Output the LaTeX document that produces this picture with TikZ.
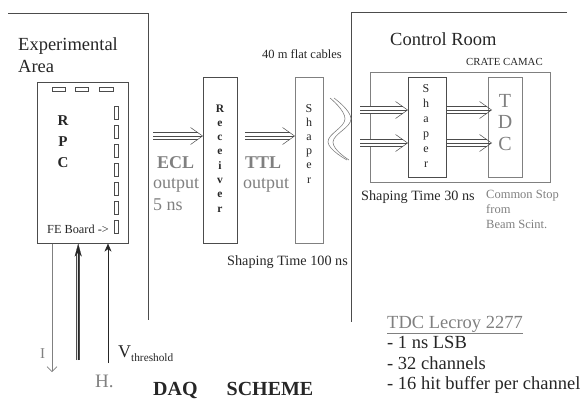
\documentclass[tikz,border=0pt]{standalone}
\usepackage{fontspec}
\setmainfont{Liberation Serif}
\newfontfamily\tms{Liberation Serif}
\usetikzlibrary{arrows.meta}
\newcommand\fsz[1]{\tms\fontsize{#1}{#1}\selectfont}
\definecolor{ln}{gray}{0.3}
\definecolor{lnl}{gray}{0.5}
\definecolor{tg}{gray}{0.5}
\definecolor{td}{gray}{0.15}
\tikzset{
  box/.style={draw=ln, line width=0.6pt, inner sep=0pt, anchor=north west},
  lbl/.style={anchor=base west, inner sep=0pt, text=td},
  letter/.style={anchor=base, inner sep=0pt, text=td},
  tri/.style={draw=ln, line width=0.5pt, -{Straight Barb[length=12pt,width=17pt]},
    preaction={draw=ln, line width=7.2pt, shorten >=5pt, -},
    preaction={draw=white, line width=6.2pt, shorten >=5pt, -}},
  dbl/.style={draw=td, line width=0.2pt, -{Stealth[length=13pt,width=7pt]},
    preaction={draw=ln, line width=3.6pt, shorten >=9pt, -},
    preaction={draw=gray!25, line width=2.2pt, shorten >=9pt, -}},
  wire/.style={draw=ln, line width=0.6pt},
}
\begin{document}
\begin{tikzpicture}[x=1pt,y=-1pt]
\useasboundingbox (0,0) rectangle (584,402);
% walls
\draw[wire] (8,13) -- (148,13) -- (148,320);
\draw[wire] (567,12) -- (351,12) -- (351,322);
\node[lbl, font=\fsz{18.5}] (exp) at (18,50) {Experimental};
\node[lbl, font=\fsz{18.5}] (area) at (18,72) {Area};
\node[lbl, font=\fsz{18.5}] (ctrl) at (390,45) {Control Room};
\node[lbl, font=\fsz{10.8}] (crt) at (466,65) {CRATE CAMAC};
% RPC
\node[box, minimum width=91pt, minimum height=161pt] (rpc) at (37,82) {};
\draw[wire, line width=0.5pt] (52,87) rectangle (65,91) (75,87) rectangle (88,91) (99,87) rectangle (113,91);
\foreach \i in {0,...,6} {\draw[wire, line width=0.5pt] (114,106+19*\i) rectangle (118,119+19*\i);}
\node[letter, font=\fsz{15}\bfseries] (r1) at (63,125) {R};
\node[letter, font=\fsz{15}\bfseries] (r2) at (63,146) {P};
\node[letter, font=\fsz{15}\bfseries] (r3) at (63,167) {C};
\node[lbl, font=\fsz{12.3}] (fe) at (47,233) {FE Board ->};
% Receiver
\node[box, minimum width=34pt, minimum height=166pt] (rcv) at (203,77) {};
\foreach \c [count=\i from 0] in {R,e,c,e,i,v,e,r}
  {\node[letter, font=\fsz{11.5}\bfseries] (rv\i) at (220,112+14.3*\i) {\c};}
% Shaper 1
\node[box, draw=lnl, minimum width=28pt, minimum height=166pt] (sh1) at (295,77) {};
\foreach \c [count=\i from 0] in {S,h,a,p,e,r}
  {\node[letter, font=\fsz{12}] (sa\i) at (309,112+14.2*\i) {\c};}
\node[lbl, font=\fsz{12.5}] (flat) at (262,58) {40 m flat cables};
\node[lbl, font=\fsz{14.2}] (st1) at (227,265) {Shaping Time 100 ns};
% ECL / TTL
\coordinate (e1) at (153,136);
\draw[tri] (e1) -- (e1 -| rcv.west);
\coordinate (t1) at (245,136);
\draw[tri] (t1) -- (t1 -| sh1.west);
\node[lbl, text=tg, font=\fsz{18}\bfseries] (ecl) at (157,168) {ECL};
\node[lbl, text=tg, font=\fsz{18}] (eo) at (153,188) {output};
\node[lbl, text=tg, font=\fsz{18}] (ens) at (153,210) {5 ns};
\node[lbl, text=tg, font=\fsz{18}\bfseries] (ttl) at (245,168) {TTL};
\node[lbl, text=tg, font=\fsz{18}] (to) at (243,188) {output};
% cables
\draw[draw=lnl, line width=0.6pt] plot[smooth, tension=0.7] coordinates {(330,98) (345,119) (328,142) (347,160)};
\draw[draw=lnl, line width=0.6pt] plot[smooth, tension=0.7] coordinates {(334,98) (351,119) (333,142) (349,160)};
% crate
\node[box, draw=lnl, minimum width=180pt, minimum height=110pt] (crate) at (370,72) {};
\node[box, minimum width=38pt, minimum height=100pt] (sh2) at (408,77) {};
\foreach \c [count=\i from 0] in {S,h,a,p,e,r}
  {\node[letter, font=\fsz{12}] (sb\i) at (426,92+15*\i) {\c};}
\node[box, draw=lnl, minimum width=34pt, minimum height=100pt] (tdc) at (488,77) {};
\node[letter, text=tg, font=\fsz{20}] (tt) at (505,107) {T};
\node[letter, text=tg, font=\fsz{20}] (td) at (505,128.5) {D};
\node[letter, text=tg, font=\fsz{20}] (tc) at (505,150) {C};
\coordinate (c1) at (360,110);
\coordinate (c2) at (360,143);
\draw[tri] (c1) -- (c1 -| sh2.west);
\draw[tri] (c2) -- (c2 -| sh2.west);
\draw[tri] (c1 -| sh2.east) -- ([xshift=4pt]c1 -| tdc.west);
\draw[tri] (c2 -| sh2.east) -- ([xshift=4pt]c2 -| tdc.west);
\node[lbl, font=\fsz{14.2}] (st2) at (361,200) {Shaping Time 30 ns};
\node[lbl, text=tg, font=\fsz{12.5}] (cs1) at (486,198) {Common Stop};
\node[lbl, text=tg, font=\fsz{12.5}] (cs2) at (486,213) {from};
\node[lbl, text=tg, font=\fsz{12.5}] (cs3) at (486,228) {Beam Scint.};
% lines below RPC
\coordinate (iend) at (52,372);
\draw[draw=lnl, line width=0.6pt, -{Straight Barb[length=5pt,width=10pt]}] (iend |- rpc.south) -- (iend);
\coordinate (hs) at (78.2,360);
\draw[dbl] (hs) -- (hs |- rpc.south);
\coordinate (vs) at (108,363);
\draw[draw=td, line width=0.6pt, -{Stealth[length=8pt,width=7pt,inset=2.5pt]}] (vs) -- (vs |- rpc.south);
\node[lbl, text=tg, font=\fsz{15}] (il) at (40,358) {I};
\node[lbl, text=tg, font=\fsz{19}] (hl) at (95,387) {H.};
\node[lbl, font=\fsz{18}] (vl) at (118,357) {V\raisebox{-4.5pt}{\fsz{11.3}threshold}};
\node[lbl, font=\fsz{20}\bfseries] (daq) at (153,395) {DAQ\hspace{29pt}SCHEME};
% TDC info
\node[lbl, text=tg, font=\fsz{18.5}] (ti) at (387,328) {\underline{TDC Lecroy 2277}};
\node[lbl, font=\fsz{18.5}] (t2) at (387,348) {- 1 ns LSB};
\node[lbl, font=\fsz{18.5}] (t3) at (387,369) {- 32 channels};
\node[lbl, font=\fsz{18.5}] (t4) at (387,389) {- 16 hit buffer per channel};
\end{tikzpicture}
\end{document}
